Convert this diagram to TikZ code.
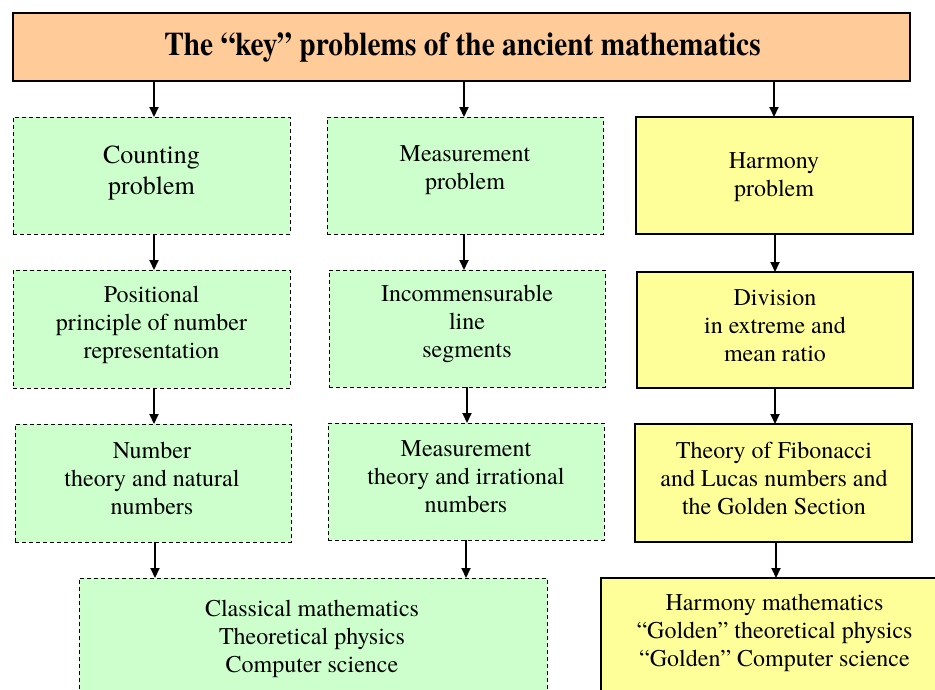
\documentclass[tikz,border=0pt]{standalone}
\usepackage{fontspec}
\setmainfont{texgyretermes}[Extension=.otf,UprightFont=*-regular,BoldFont=*-bold,ItalicFont=*-italic,BoldItalicFont=*-bolditalic]
\usetikzlibrary{arrows.meta,calc}
\definecolor{peach}{HTML}{FFCC99}
\definecolor{lgreen}{HTML}{CCFFCC}
\definecolor{lyellow}{HTML}{FFFF99}
\begin{document}
\begin{tikzpicture}[x=1pt,y=-1pt,
  tbox/.style={draw=black,fill=peach,line width=2.4pt,inner sep=0pt,outer sep=0pt},
  gbox/.style={draw=black,fill=lgreen,line width=1pt,dash pattern=on 4pt off 3pt,inner sep=0pt,outer sep=0pt},
  ybox/.style={draw=black,fill=lyellow,line width=1.6pt,inner sep=0pt,outer sep=0pt},
  txt/.style={align=center,inner sep=0pt,font=\fontsize{24}{28}\selectfont},
  bigtxt/.style={align=center,inner sep=0pt,font=\fontsize{26}{31}\selectfont},
  arr/.style={line width=2pt,-{Triangle[length=10pt,width=9pt]}}]
\useasboundingbox (0,0) rectangle (935,689);
\clip (0,0) rectangle (935,689);
% boxes
\node[tbox,minimum width=897pt,minimum height=68pt] (title) at (461.5,47) {};
\node[font=\bfseries\fontsize{33}{36}\selectfont,inner sep=0pt] (titlet) at (462.5,47.5) {\scalebox{0.89}[1]{The “key” problems of the ancient mathematics}};

\node[gbox,minimum width=277pt,minimum height=117pt] (c1) at (151.5,175.5) {};
\node[gbox,minimum width=276pt,minimum height=117pt] (c2) at (465,175.5) {};
\node[ybox,minimum width=277pt,minimum height=117pt] (c3) at (774.5,175.5) {};

\node[gbox,minimum width=277pt,minimum height=118pt] (p1) at (151.5,329) {};
\node[gbox,minimum width=276pt,minimum height=117pt] (p2) at (467,328.5) {};
\node[ybox,minimum width=276pt,minimum height=116pt] (p3) at (775,330) {};

\node[gbox,minimum width=276pt,minimum height=118pt] (n1) at (153,483) {};
\node[gbox,minimum width=276pt,minimum height=117pt] (n2) at (466,481.5) {};
\node[ybox,minimum width=277pt,minimum height=118pt] (n3) at (773.5,483) {};

\node[gbox,minimum width=468pt,minimum height=140pt,anchor=north] (cl) at (313,578) {};
\node[ybox,minimum width=347pt,minimum height=140pt,anchor=north] (hm) at (774.5,578) {};

% texts
\node[bigtxt] (c1t) at (151.5,173.5) {Counting\\problem};
\node[txt] (c2t) at (465,170.5) {Measurement\\problem};
\node[txt] (c3t) at (774,177) {Harmony\\problem};
\node[txt] (p1t) at (151.5,324.5) {Positional\\principle of number\\representation};
\node[txt] (p2t) at (467,324) {Incommensurable\\line\\segments};
\node[txt] (p3t) at (775,325.5) {Division\\in extreme and\\mean ratio};
\node[txt] (n1t) at (152,478.5) {Number\\theory and natural\\numbers};
\node[txt] (n2t) at (466,476.5) {Measurement\\theory and irrational\\numbers};
\node[txt] (n3t) at (774,478.5) {Theory of Fibonacci\\and Lucas numbers and\\the Golden Section};
\node[txt] (clt) at (312,638.5) {Classical mathematics\\Theoretical physics\\Computer science};
\node[txt] (hmt) at (774.5,632.5) {Harmony mathematics\\“Golden” theoretical physics\\“Golden” Computer science};

% arrows
\draw[arr] (title.south -| 154,0) -- (c1.north -| 154,0);
\draw[arr] (title.south -| 464,0) -- (c2.north -| 464,0);
\draw[arr] (title.south -| 774,0) -- (c3.north -| 774,0);
\draw[arr] (c1.south -| 154,0) -- (p1.north -| 154,0);
\draw[arr] (c2.south -| 464,0) -- (p2.north -| 464,0);
\draw[arr] (c3.south -| 775,0) -- (p3.north -| 775,0);
\draw[arr] (p1.south -| 154,0) -- (n1.north -| 154,0);
\draw[arr] (p2.south -| 467,0) -- (n2.north -| 467,0);
\draw[arr] (p3.south -| 775,0) -- (n3.north -| 775,0);
\draw[arr] (n1.south -| 155,0) -- (cl.north -| 155,0);
\draw[arr] (n2.south -| 466,0) -- (cl.north -| 466,0);
\draw[arr] (n3.south -| 776,0) -- (hm.north -| 776,0);
\end{tikzpicture}
\end{document}
